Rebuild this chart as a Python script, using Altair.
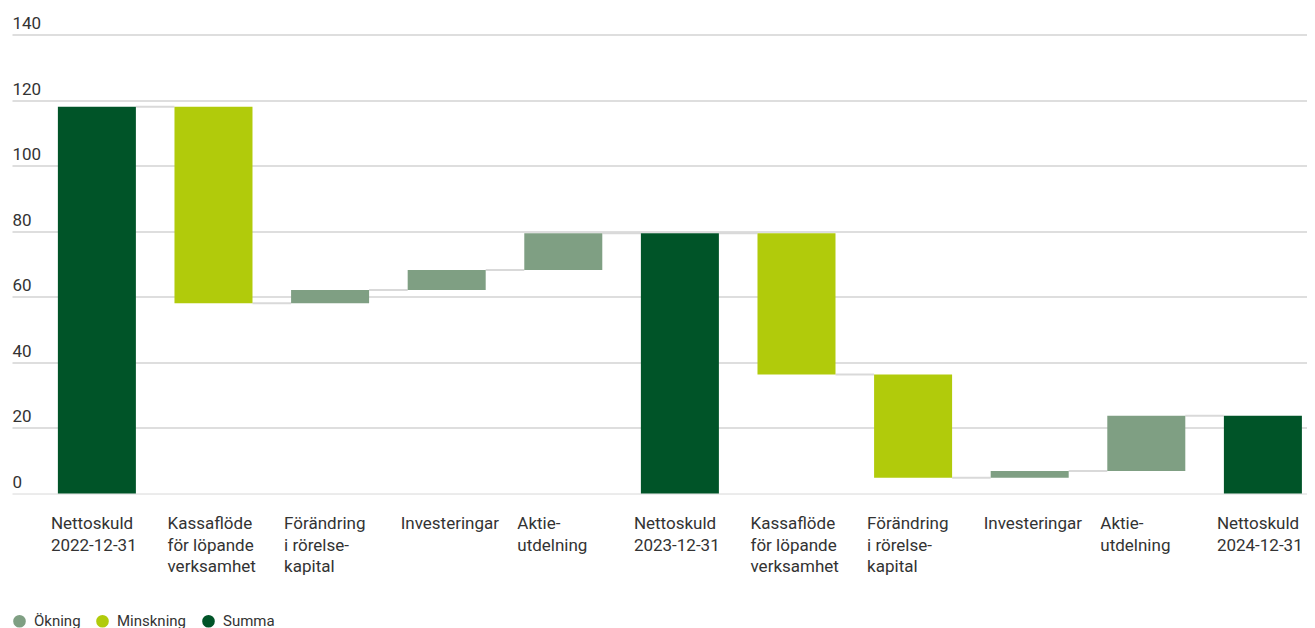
import altair as alt
import pandas as pd

labels = [
    "Nettoskuld|2022-12-31",
    "Kassaflöde|för löpande|verksamhet",
    "Förändring|i rörelse-|kapital",
    "Investeringar",
    "Aktie-|utdelning",
    "Nettoskuld|2023-12-31",
    "Kassaflöde|för löpande|verksamhet",
    "Förändring|i rörelse-|kapital",
    "Investeringar",
    "Aktie-|utdelning",
    "Nettoskuld|2024-12-31",
]
steps = [118.0, -60.0, 4.1, 6.1, 11.2, None, -43.1, -31.5, 2.1, 16.8, None]
kinds = ["Summa", "Minskning", "Ökning", "Ökning", "Ökning", "Summa",
         "Minskning", "Minskning", "Ökning", "Ökning", "Summa"]

legend_order = ["Ökning", "Minskning", "Summa"]
legend_colors = ["#7F9F83", "#B1CB0B", "#005428"]

keys = [f"{i:02d}|{lab}" for i, lab in enumerate(labels)]

rows = []
levels = []
total = 0.0
for key, s, k in zip(keys, steps, kinds):
    if k == "Summa":
        if s is not None:
            total = s
        start, end = 0.0, total
    else:
        start = total
        total = round(total + s, 2)
        end = total
    rows.append({"key": key, "start": start, "end": end, "kind": k})
    levels.append(total)
bars_df = pd.DataFrame(rows)

conn_df = pd.DataFrame({
    "from": keys[:-1],
    "to": keys[1:],
    "level": levels[:-1],
})

xscale = alt.Scale(domain=keys, paddingInner=0.331, paddingOuter=0.2186, align=0.9)

xaxis = alt.Axis(
    title=None,
    labelExpr="slice(split(datum.label, '|'), 1)",
    labelAlign="left",
    labelOffset=-46,
    labelBaseline="top",
    labelPadding=22,
    labelLineHeight=21.5,
    labelFontSize=17,
    labelColor="#333333",
    labelAngle=0,
    ticks=False,
    domain=False,
    grid=False,
)

yaxis = alt.Axis(
    title=None,
    values=[0, 20, 40, 60, 80, 100, 120, 140],
    labelAlign="left",
    labelPadding=0,
    ticks=False,
    tickSize=0,
    domain=False,
    labelOffset=-6,
    labelBaseline="alphabetic",
    labelFontSize=17,
    labelColor="#333333",
    gridColor={"condition": {"test": "datum.value === 0", "value": "#d8d8d8"}, "value": "#bdbdbd"},
    gridWidth=1,
)

connectors = alt.Chart(conn_df).mark_rule(color="#d9d9d9", strokeWidth=2).encode(
    x=alt.X("from:N", scale=xscale, axis=xaxis, bandPosition=1),
    x2=alt.X2("to:N", bandPosition=0),
    y=alt.Y("level:Q", scale=alt.Scale(domain=[0, 140], nice=False), axis=yaxis),
)

bars = alt.Chart(bars_df).mark_bar().encode(
    x=alt.X("key:N", scale=xscale, axis=xaxis),
    y=alt.Y("start:Q", scale=alt.Scale(domain=[0, 140], nice=False), axis=yaxis),
    y2="end:Q",
    color=alt.Color(
        "kind:N",
        scale=alt.Scale(domain=legend_order, range=legend_colors),
        legend=alt.Legend(
            title=None,
            orient="none",
            legendX=0,
            legendY=579,
            direction="horizontal",
            symbolType="circle",
            symbolSize=160,
            symbolStrokeWidth=0,
            symbolOpacity=1,
            labelFontSize=15,
            labelColor="#333333",
            labelOffset=7,
            columnPadding=14,
            padding=0,
        ),
    ),
)

chart = alt.layer(connectors, bars).properties(
    width=1295,
    height=459,
    autosize=alt.AutoSizeParams(type="none"),
    padding={"left": 4, "top": 26.5, "right": 0, "bottom": 140},
).configure(
    font="Roboto",
).configure_view(stroke=None)

chart.save("out.html", embed_options={"renderer": "svg", "actions": False})
